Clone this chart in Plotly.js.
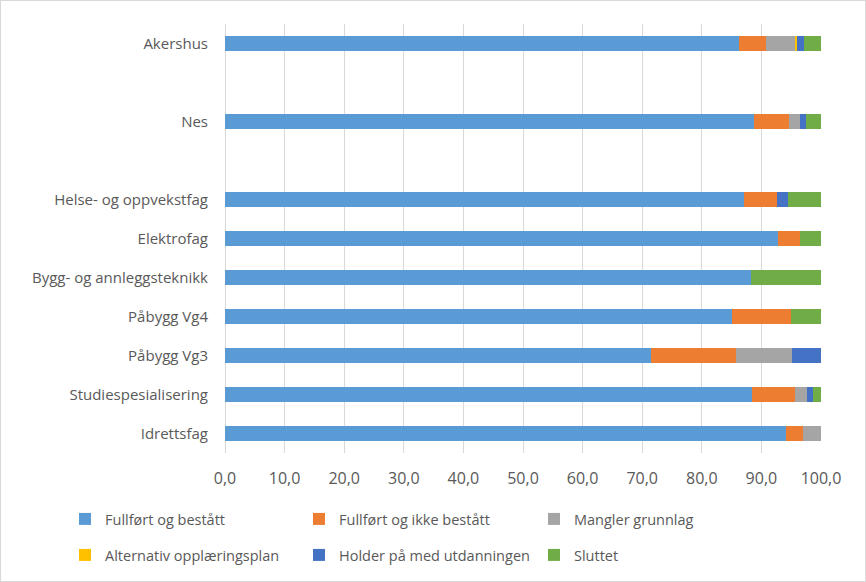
<!DOCTYPE html>
<html>
<head>
<meta charset="utf-8">
<script src="https://cdn.plot.ly/plotly-3.0.1.min.js"></script>
<style>
  html, body { margin: 0; padding: 0; background: #fff; }
  #wrap { position: relative; width: 866px; height: 582px; }
  #chart { width: 866px; height: 582px; }
  #frame { position: absolute; left: 0; top: 0; width: 864px; height: 580px; border: 1px solid #D9D9D9; pointer-events: none; }
</style>
</head>
<body>
<div id="wrap"><div id="chart"></div><div id="frame"></div></div>
<script>
const categories = ['Akershus', ' ', 'Nes', '  ', 'Helse- og oppvekstfag', 'Elektrofag',
  'Bygg- og annleggsteknikk', 'Påbygg Vg4', 'Påbygg Vg3', 'Studiespesialisering', 'Idrettsfag'];

const fullfortBestatt   = [86.3, null, 88.7, null, 87.1, 92.8, 88.2, 85.0, 71.4, 88.4, 94.1];
const fullfortIkke      = [4.5,  null, 6.0,  null, 5.5,  3.6,  0,    10.0, 14.3, 7.2,  2.9];
const manglerGrunnlag   = [4.8,  null, 1.8,  null, 0,    0,    0,    0,    9.5,  2.0,  3.0];
const alternativPlan    = [0.3,  null, 0,    null, 0,    0,    0,    0,    0,    0,    0];
const holderPa          = [1.2,  null, 0.9,  null, 1.9,  0,    0,    0,    4.8,  1.0,  0];
const sluttet           = [2.9,  null, 2.6,  null, 5.5,  3.6,  11.8, 5.0,  0,    1.4,  0];

const seriesNames = ['Fullført og bestått', 'Fullført og ikke bestått', 'Mangler grunnlag',
  'Alternativ opplæringsplan', 'Holder på med utdanningen', 'Sluttet'];
const seriesValues = [fullfortBestatt, fullfortIkke, manglerGrunnlag, alternativPlan, holderPa, sluttet];
const seriesColors = ['#5B9BD5', '#ED7D31', '#A5A5A5', '#FFC000', '#4472C4', '#70AD47'];

const font = 'Open Sans, Liberation Sans, sans-serif';
const legendIds = ['legend', 'legend2', 'legend3', 'legend4', 'legend5', 'legend6'];

const traces = seriesNames.map((name, i) => ({
  type: 'bar',
  orientation: 'h',
  name: name,
  y: categories,
  x: seriesValues[i],
  marker: { color: seriesColors[i], line: { width: 0 } },
  legend: legendIds[i],
  hoverinfo: 'skip'
}));

// legend grid: 3 columns x 2 rows (pixel positions of each entry)
const legendColX = [65, 299, 534];
const legendRowY = [519, 555];

const layout = {
  width: 866, height: 582,
  margin: { l: 225, r: 45, t: 24, b: 129 },
  paper_bgcolor: '#ffffff',
  plot_bgcolor: '#ffffff',
  barmode: 'stack',
  bargap: 0.6,
  separators: ', ',
  showlegend: true,
  font: { family: font, size: 15, color: '#595959' },
  xaxis: {
    range: [0, 100],
    dtick: 10,
    tick0: 0,
    tickformat: '.1f',
    showgrid: true,
    gridcolor: '#D9D9D9',
    gridwidth: 1,
    zeroline: true,
    zerolinecolor: '#D9D9D9',
    zerolinewidth: 1,
    showline: false,
    ticks: '',
    ticklabelstandoff: 14,
    tickfont: { family: font, size: 16, color: '#595959' },
    fixedrange: true
  },
  yaxis: {
    type: 'category',
    categoryorder: 'array',
    categoryarray: categories,
    autorange: 'reversed',
    showgrid: false,
    zeroline: false,
    showline: false,
    ticks: '',
    ticklabelstandoff: 16,
    tickfont: { family: font, size: 15, color: '#595959' },
    fixedrange: true
  }
};

legendIds.forEach((id, i) => {
  layout[id] = {
    orientation: 'h',
    xref: 'container', yref: 'container',
    xanchor: 'left', yanchor: 'middle',
    x: legendColX[i % 3] / 866,
    y: 1 - legendRowY[Math.floor(i / 3)] / 582,
    font: { family: font, size: 14.5, color: '#595959' },
    bgcolor: 'rgba(0,0,0,0)'
  };
});

Plotly.newPlot('chart', traces, layout, { displayModeBar: false, staticPlot: true });
</script>
</body>
</html>
